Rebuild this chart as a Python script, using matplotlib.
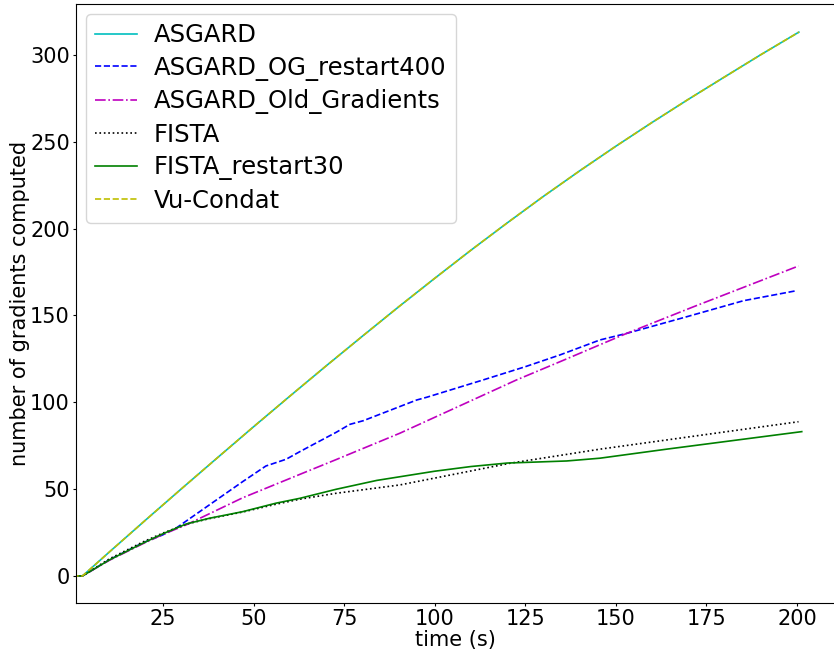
import matplotlib
matplotlib.use("Agg")
import matplotlib.pyplot as plt

# Werte
t_asgard = [0, 2.8, 10, 20, 30, 40, 50, 60, 70, 80, 90, 100, 110, 120, 130, 140, 150, 160, 170, 180, 190, 200.5]
g_asgard = [0, 0, 13.4, 31.8, 50.0, 68.0, 85.9, 103.5, 120.9, 138.0, 154.9, 171.4, 187.6, 203.3, 218.6, 233.3,
            247.5, 261.2, 274.5, 287.4, 300.2, 313.2]
g_vu = [0, 0, 13.4, 31.8, 50.0, 68.0, 85.9, 103.5, 120.9, 138.0, 154.9, 171.4, 187.6, 203.3, 218.6, 233.3,
        247.5, 261.2, 274.5, 287.4, 300.2, 313.2]

t_og = [0, 2.8, 10.2, 19.4, 24.9, 28.6, 37.8, 47, 53.4, 59, 62.8, 65.4, 72.8, 76.6, 80.3, 95, 97.8, 113.4,
        125, 134.6, 145.6, 153, 169.6, 185.2, 199.9]
g_og = [0, 0, 9.3, 19.0, 23.6, 27.5, 40.9, 54.3, 63.3, 67.2, 71.6, 74.5, 82.7, 87.3, 89.4, 101.3, 102.9, 112.9,
        120.5, 127.3, 135.9, 139.7, 149.3, 158.5, 164.3]

t_old = [0, 2.8, 10.2, 19.4, 24.9, 31.4, 47, 62.8, 72.8, 90.4, 122.6, 134.6, 153, 171.4, 200.4]
g_old = [0, 0, 9.0, 18.5, 23.8, 29.4, 45.0, 58.5, 67.0, 82.2, 112.9, 123.4, 139.7, 155.0, 178.5]

t_fista = [0, 2.8, 10.2, 19.4, 24.9, 31.4, 37.8, 47, 56.2, 62.8, 72.8, 90.4, 120.8, 145.6, 200.4]
g_fista = [0, 0, 9.8, 19.5, 24.6, 29.8, 33.0, 36.8, 41.3, 44.2, 47.6, 52.4, 64.9, 73.0, 88.8]

t_restart = [0, 2.8, 10.2, 19.4, 24.9, 31.4, 37.8, 47, 56.2, 62.8, 72.8, 84, 100, 110, 120, 136.4, 145.6,
             164, 201.3]
g_restart = [0, 0, 9.2, 18.8, 24.2, 29.9, 33.2, 37.0, 41.9, 44.7, 49.9, 55.0, 60.3, 63.0, 65.0, 66.2, 67.8,
             73.0, 83.1]

fig = plt.figure(figsize=(8.34, 6.5), dpi=100)
ax = fig.add_axes([76 / 834, 47 / 650, 1 - 76 / 834, (603 - 4) / 650])

lw = 1.2
ax.plot(t_asgard, g_asgard, color="c", linestyle="-", lw=lw, label="ASGARD")
ax.plot(t_og, g_og, color="b", linestyle="--", lw=lw, label="ASGARD_OG_restart400")
ax.plot(t_old, g_old, color="m", linestyle="-.", lw=lw, label="ASGARD_Old_Gradients")
ax.plot(t_fista, g_fista, color="k", linestyle=":", lw=lw, label="FISTA")
ax.plot(t_restart, g_restart, color="g", linestyle="-", lw=lw, label="FISTA_restart30")
ax.plot(t_asgard, g_vu, color="y", linestyle="--", lw=lw, label="Vu-Condat")

ax.set_xlim(1, 210.2)
ax.set_ylim(-15.6, 329.4)
ax.set_xticks([25, 50, 75, 100, 125, 150, 175, 200])
ax.spines["right"].set_visible(False)
ax.tick_params(labelsize=15, length=2.5, pad=2)
ax.set_xlabel("time (s)", fontsize=15, labelpad=0.5)
ax.set_ylabel("number of gradients computed", fontsize=15, labelpad=0)
ax.legend(loc="upper left", fontsize=17.5, handlelength=1.7, handletextpad=0.7, labelspacing=0.35,
          borderaxespad=0.4)

fig.savefig("out.png", dpi=100)
